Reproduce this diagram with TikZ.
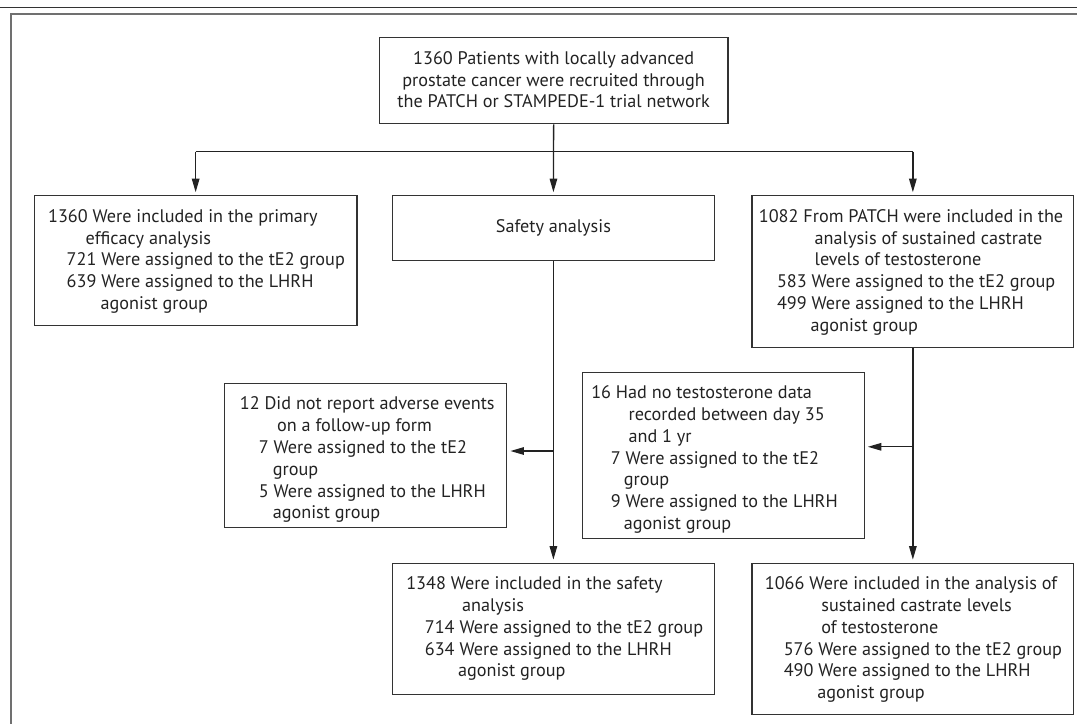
\documentclass[tikz,border=0pt]{standalone}
\usepackage{fontspec}
\setmainfont{PT Sans}
\usetikzlibrary{arrows.meta}
\definecolor{ink}{HTML}{222222}
\definecolor{boxline}{HTML}{333333}
\definecolor{framegray}{HTML}{707070}
\newcommand\bxl[2]{\mbox{\hspace*{#1pt}#2}}
\newcommand\firstrow{\rule{0pt}{26.5pt}}
\tikzset{
  fbox/.style={draw=boxline, line width=1.2pt, inner sep=0pt, anchor=north west, text=ink,
    font=\fontsize{18.2}{21.8}\selectfont},
  arr/.style={draw=ink, line width=1.3pt, -{Triangle[length=13.5pt,width=7.5pt]}, shorten >=3pt},
  conn/.style={draw=ink, line width=1.3pt},
}
\begin{document}
\begin{tikzpicture}[x=1pt,y=-1pt]
\useasboundingbox (0,0) rectangle (1077,724);
% header rules and frame
\draw[line width=1.3pt, draw=boxline] (0,7.6) -- (1077,7.6);
\draw[line width=2pt, draw=framegray] (10,14.1) -- (1077,14.1);
\draw[line width=2pt, draw=framegray] (11,14.1) -- (11,724);

% boxes
\node[fbox] (top) at (378.8,37.2) {\parbox[c][86pt][t]{348.5pt}{\centering\firstrow
  1360 Patients with locally advanced\\prostate cancer were recruited through\\the PATCH or STAMPEDE-1 trial network}};

\node[fbox] (eff) at (33.7,195.2) {\parbox[c][130pt][t]{322.7pt}{\raggedright\firstrow
  \bxl{13.8}{1360 Were included in the primary}\\
  \bxl{51.3}{efficacy analysis}\\
  \bxl{32.4}{721 Were assigned to the tE2 group}\\
  \bxl{32.4}{639 Were assigned to the LHRH}\\
  \bxl{66.2}{agonist group}}};

\node[fbox] (saf) at (392,195.2) {\parbox[c][64.4pt][c]{321.6pt}{\centering Safety analysis}};

\node[fbox] (pat) at (751.3,195.2) {\parbox[c][151.6pt][t]{321.9pt}{\raggedright\firstrow
  \bxl{7}{1082 From PATCH were included in the}\\
  \bxl{62.8}{analysis of sustained castrate}\\
  \bxl{62.8}{levels of testosterone}\\
  \bxl{25.1}{583 Were assigned to the tE2 group}\\
  \bxl{25.1}{499 Were assigned to the LHRH}\\
  \bxl{58.7}{agonist group}}};

\node[fbox] (nr12) at (224.2,382.8) {\parbox[c][144.3pt][t]{282pt}{\raggedright\firstrow
  \bxl{15.1}{12 Did not report adverse events}\\
  \bxl{52.3}{on a follow-up form}\\
  \bxl{34}{7 Were assigned to the tE2}\\
  \bxl{48}{group}\\
  \bxl{34}{5 Were assigned to the LHRH}\\
  \bxl{48}{agonist group}}};

\node[fbox] (nr16) at (582.1,371.5) {\parbox[c][166.1pt][t]{281.5pt}{\raggedright\firstrow
  \bxl{8.6}{16 Had no testosterone data}\\
  \bxl{45.9}{recorded between day 35}\\
  \bxl{45.9}{and 1 yr}\\
  \bxl{28.1}{7 Were assigned to the tE2}\\
  \bxl{41.1}{group}\\
  \bxl{28.1}{9 Were assigned to the LHRH}\\
  \bxl{41.1}{agonist group}}};

\node[fbox] (s1348) at (392,562.6) {\parbox[c][131.5pt][t]{321.6pt}{\raggedright\firstrow
  \bxl{13.7}{1348 Were included in the safety}\\
  \bxl{69.5}{analysis}\\
  \bxl{32.3}{714 Were assigned to the tE2 group}\\
  \bxl{32.3}{634 Were assigned to the LHRH}\\
  \bxl{65.4}{agonist group}}};

\node[fbox] (s1066) at (751.3,562.6) {\parbox[c][151pt][t]{321.9pt}{\raggedright\firstrow
  \bxl{13}{1066 Were included in the analysis of}\\
  \bxl{69.5}{sustained castrate levels}\\
  \bxl{69.5}{of testosterone}\\
  \bxl{31.9}{576 Were assigned to the tE2 group}\\
  \bxl{31.9}{490 Were assigned to the LHRH}\\
  \bxl{65.4}{agonist group}}};

% connectors
\coordinate (split) at (553,151.5);
\coordinate (b12) at (553,451);
\coordinate (b16) at (912.3,446.8);
\draw[arr] (top.south) -- (saf.north);
\draw[conn] (eff.north |- split) -- (pat.north |- split);
\draw[arr] (eff.north |- split) -- (eff.north);
\draw[arr] (pat.north |- split) -- (pat.north);
\draw[arr] (saf.south) -- (s1348.north);
\draw[arr] (b12) -- (nr12.east |- b12);
\draw[arr] (pat.south) -- (s1066.north);
\draw[arr] (b16) -- (nr16.east |- b16);
\end{tikzpicture}
\end{document}
